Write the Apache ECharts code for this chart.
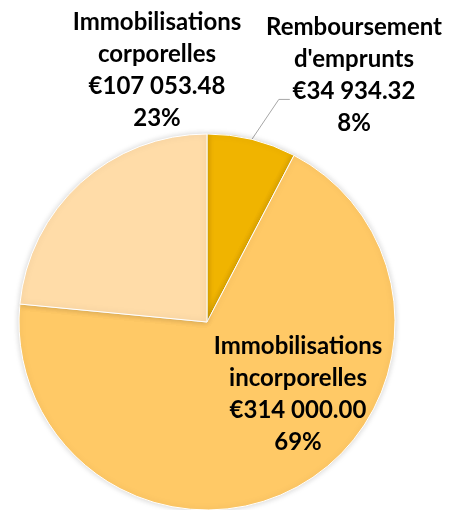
<!DOCTYPE html>
<html>
<head>
	<meta charset="utf-8">
	<title>Répartition</title>
	<script src="https://cdn.jsdelivr.net/npm/echarts@6/dist/echarts.min.js"></script>
	<style>
		html,body{margin:0;padding:0;background:#fff}
		#main{width:450px;height:510px}
	</style>
</head>
<body>
<div id="main"></div>
<script>
	// données du graphique
	var names = ["Remboursement\nd'emprunts", 'Immobilisations\nincorporelles', 'Immobilisations\ncorporelles'];
	var values = [34934.32, 314000.00, 107053.48];
	var colors = ['#F0B400', '#FFC966', '#FFDCA8'];

	// position des étiquettes (centre x, centre y du bloc)
	var labelPos = [[354, 75], [298, 394], [157, 70]];

	function euro(v) {
		var parts = v.toFixed(2).split('.');
		return '€' + parts[0].replace(/\B(?=(\d{3})+(?!\d))/g, ' ') + '.' + parts[1];
	}

	var data = [];
	for (var i = 0; i < names.length; i++) {
		data.push({
			name: names[i],
			value: values[i],
			itemStyle: {color: colors[i]},
			labelLine: {show: i === 0}
		});
	}

	var myChart = echarts.init(document.getElementById('main'));
	var option = {
		animation: false,
		series: [{
			type: 'pie',
			center: [207, 322],
			radius: 188,
			startAngle: 90,
			clockwise: true,
			percentPrecision: 0,
			data: data,
			itemStyle: {
				borderColor: '#fff',
				borderWidth: 1,
				shadowBlur: 6,
				shadowColor: 'rgba(0,0,0,0.18)'
			},
			label: {
				show: true,
				position: 'outside',
				color: '#000',
				fontFamily: 'Lato',
				fontWeight: 'bold',
				fontSize: 24,
				lineHeight: 32,
				align: 'center',
				overflow: 'none',
				edgeDistance: 0,
				bleedMargin: 0,
				formatter: function (p) {
					return p.name + '\n' + euro(p.value) + '\n' + p.percent + '%';
				}
			},
			labelLine: {
				lineStyle: {color: '#A6A6A6', width: 1}
			},
			labelLayout: function (params) {
				var pos = labelPos[params.dataIndex];
				var out = {x: pos[0], y: pos[1], align: 'center', verticalAlign: 'middle'};
				if (params.dataIndex === 0 && params.labelLinePoints) {
					var a = params.labelLinePoints[0];
					out.labelLinePoints = [[a[0], a[1]], [a[0] + 27, a[1] - 40], [a[0] + 38, a[1] - 40]];
				}
				return out;
			}
		}]
	};
	option && myChart.setOption(option);
</script>
</body>
</html>
